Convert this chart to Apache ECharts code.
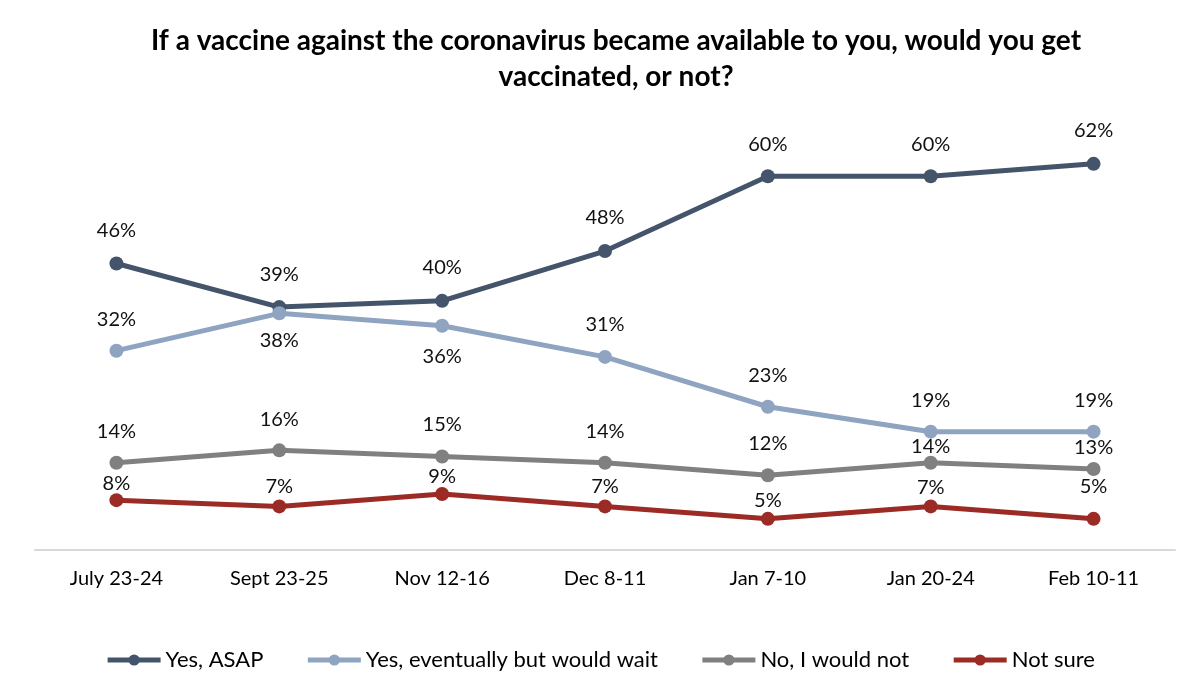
<!DOCTYPE html>
<html>
<head>
<meta charset="utf-8">
<script src="https://cdn.jsdelivr.net/npm/echarts@6/dist/echarts.min.js"></script>
<style>
html,body{margin:0;padding:0;background:#fff;}
#c{width:1200px;height:695px;}
</style>
</head>
<body>
<div id="c"></div>
<script>
const categories = ['July 23-24','Sept 23-25','Nov 12-16','Dec 8-11','Jan 7-10','Jan 20-24','Feb 10-11'];
const yesAsap = [46, 39, 40, 48, 60, 60, 62];
const yesWait = [32, 38, 36, 31, 23, 19, 19];
const noWould = [14, 16, 15, 14, 12, 14, 13];
const notSure = [8, 7, 9, 7, 5, 7, 5];
const seriesNames = ['Yes, ASAP','Yes, eventually but would wait','No, I would not','Not sure'];

// label gaps (px above point; negative = below), styling only
const gaps = [
  [33,33,33,33,32,32,33],
  [31,-27,-31,32,31,31,31],
  [31,31,32,31,32,16,21],
  [17,20,17,20,18,19,32]
];
const colors = ['#44546A','#8EA4C1','#808080','#9B2B24'];
const FONT = 'Lato';

function mk(name, vals, color, g){
  return {
    name: name,
    type: 'line',
    data: vals.map((v,i)=>({value:v, label:{offset:[0,-g[i]]}})),
    symbol: 'circle',
    symbolSize: 14,
    lineStyle: {width: 5, color: color},
    itemStyle: {color: color},
    label: {
      show: true, position: 'inside',
      formatter: p => p.value + '%',
      color: '#111', fontSize: 20, fontFamily: FONT
    },
    emphasis: {disabled: true},
    animation: false
  };
}

const chart = echarts.init(document.getElementById('c'));
chart.setOption({
  backgroundColor: '#fff',
  title: {
    text: 'If a vaccine against the coronavirus became available to you, would you get\nvaccinated, or not?',
    left: 611, top: 18, textAlign: 'center',
    textStyle: {fontFamily: FONT, fontWeight: 'bold', fontSize: 28, lineHeight: 36, color: '#000'}
  },
  grid: {left: 35, right: 25, top: 114, bottom: 145},
  xAxis: {
    type: 'category', data: categories, boundaryGap: true,
    axisLine: {lineStyle: {color: '#D9D9D9', width: 2}},
    axisTick: {show: false},
    axisLabel: {fontFamily: FONT, fontSize: 20, color: '#000', margin: 19}
  },
  yAxis: {type: 'value', min: 0, max: 70, show: false, splitLine: {show: false}},
  legend: {
    top: 644, left: 'center',
    itemWidth: 53, itemHeight: 14, itemGap: 42,
    lineStyle: {width: 5},
    textStyle: {fontFamily: FONT, fontSize: 22, color: '#000'},
    data: seriesNames
  },
  series: [
    mk(seriesNames[0], yesAsap, colors[0], gaps[0]),
    mk(seriesNames[1], yesWait, colors[1], gaps[1]),
    mk(seriesNames[2], noWould, colors[2], gaps[2]),
    mk(seriesNames[3], notSure, colors[3], gaps[3])
  ]
});
</script>
</body>
</html>
